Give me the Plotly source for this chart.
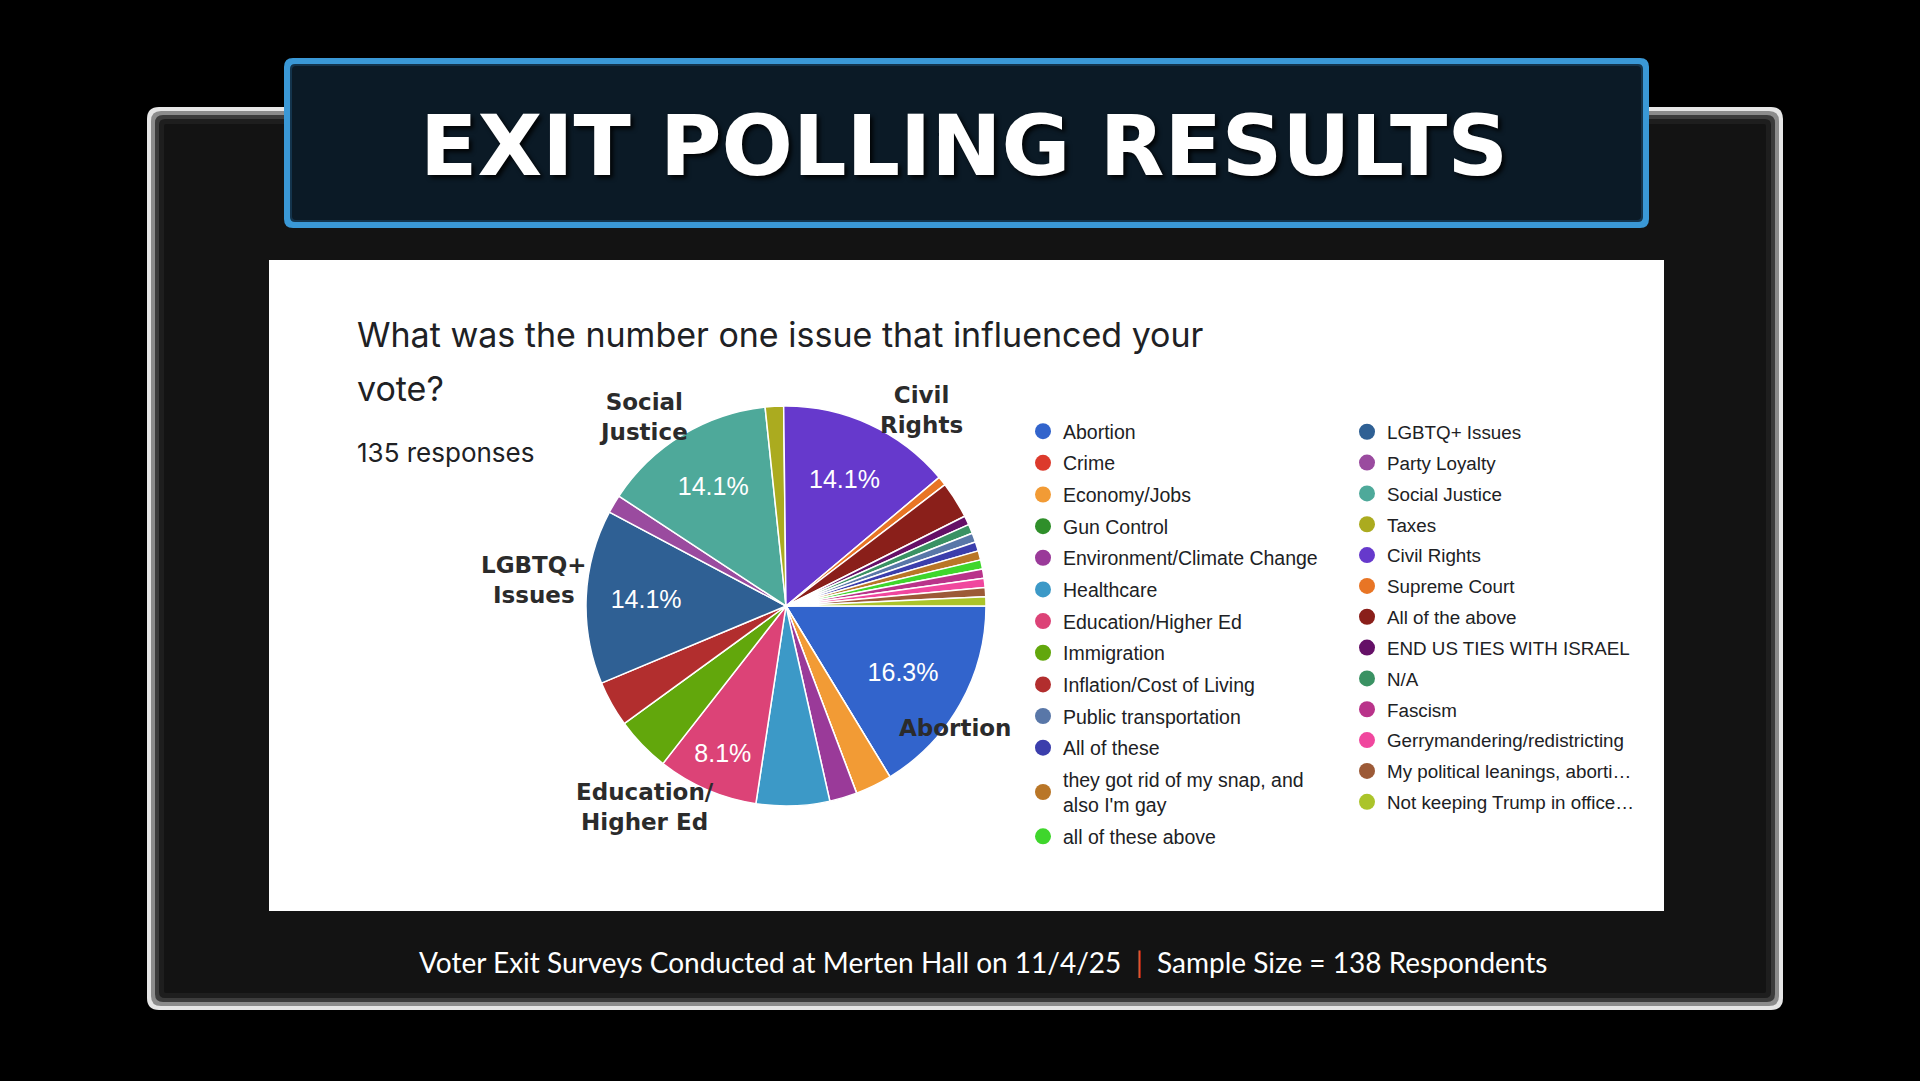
import textwrap
import plotly.graph_objects as go

W, H = 1920, 1081

# survey answers in the order the form lists them
issues = [
    "Abortion", "Crime", "Economy/Jobs", "Gun Control", "Environment/Climate Change",
    "Healthcare", "Education/Higher Ed", "Immigration", "Inflation/Cost of Living",
    "LGBTQ+ Issues", "Party Loyalty", "Social Justice", "Taxes", "Civil Rights",
    "Supreme Court", "All of the above", "END US TIES WITH ISRAEL", "N/A",
    "Public transportation", "All of these", "they got rid of my snap, and also I'm gay",
    "all of these above", "Fascism", "Gerrymandering/redistricting",
    "My political leanings, aborti…", "Not keeping Trump in office…",
]
responses = [22, 0, 4, 0, 3, 8, 11, 6, 5, 19, 2, 19, 2, 19, 1, 4, 1, 1, 1, 1, 1, 1, 1, 1, 1, 1]
colors = [
    "#3264cc", "#dc3a2c", "#f29b35", "#2f8f2a", "#9a3a99", "#3c99c7", "#dc4377",
    "#62a70c", "#b22e2e", "#2f6094", "#9a4b9f", "#4ea99a", "#abab1f", "#6639cc",
    "#e87525", "#8a1f1a", "#651067", "#3a9263", "#5977a8", "#3b3eac", "#b97627",
    "#3fd62c", "#b9338a", "#f0479e", "#9c5a37", "#abc42a",
]
legend_left = issues[0:9] + issues[18:22]
legend_right = issues[9:18] + issues[22:26]
n_responses = 135
sample_size = 138

callouts = ["Social<br>Justice", "Civil<br>Rights", "LGBTQ+<br>Issues", "Education/<br>Higher Ed", "Abortion"]
callout_xy = [(643, 417), (921, 410), (534, 580), (645, 807), (955, 728)]


def X(x):
    return x / W


def Y(y):
    return 1 - y / H


def rrect(x0, y0, x1, y1, r, fill):
    rx, ry = r / W, r / H
    a, b, c, d = X(x0), Y(y0), X(x1), Y(y1)
    path = (f"M {a+rx},{b} L {c-rx},{b} Q {c},{b} {c},{b-ry} L {c},{d+ry} Q {c},{d} {c-rx},{d} "
            f"L {a+rx},{d} Q {a},{d} {a},{d+ry} L {a},{b-ry} Q {a},{b} {a+rx},{b} Z")
    return dict(type="path", path=path, xref="paper", yref="paper", fillcolor=fill,
                line=dict(color=fill, width=0), layer="below")


fig = go.Figure()

total = sum(responses)
fig.add_trace(go.Pie(
    labels=issues, values=responses, sort=False, direction="clockwise", rotation=90,
    marker=dict(colors=colors, line=dict(color="white", width=1.5)),
    texttemplate=["%{percent:.1%}" if v / total > 0.07 else "" for v in responses],
    textposition="inside", insidetextorientation="horizontal",
    textfont=dict(family="Liberation Sans, Arial", size=25, color="white"),
    domain=dict(x=[X(586), X(986)], y=[Y(806), Y(406)]),
    showlegend=False, hoverinfo="label+percent",
))

# google-forms style two column legend
for leg, names in (("legend", legend_left), ("legend2", legend_right)):
    for name in names:
        i = issues.index(name)
        fig.add_trace(go.Scatter(
            x=[None], y=[None], mode="markers", legend=leg, legendgroup=name,
            name="<br>".join(textwrap.wrap(name, 30)),
            marker=dict(color=colors[i], size=16), hoverinfo="skip",
        ))

shapes = [
    rrect(147, 107, 1783, 1010, 12, "#e6e6e6"),
    rrect(151, 111, 1779, 1006, 10, "#8c8c8c"),
    rrect(155, 115, 1775, 1002, 8, "#3c3c3c"),
    rrect(159, 119, 1771, 998, 6, "#1e1e1e"),
    rrect(164, 124, 1766, 993, 2, "#131313"),
    dict(type="rect", xref="paper", yref="paper", x0=X(269), x1=X(1664), y0=Y(911), y1=Y(260),
         fillcolor="white", line=dict(width=0), layer="below"),
    rrect(284, 58, 1649, 228, 9, "#3a98d6"),
    rrect(290, 64, 1643, 222, 5, "#14344c"),
    rrect(292, 66, 1641, 220, 4, "#0b1a26"),
]

ann = [
    dict(x=X(964), y=Y(146), text="EXIT POLLING RESULTS",
         font=dict(family="DejaVu Sans", size=84, color="white", weight=700,
                   shadow="3px 3px 4px rgba(0,0,0,0.85)")),
    dict(x=X(355), y=Y(334), text="What was the number one issue that influenced your", xanchor="left",
         font=dict(family="Inter", size=34, color="#202124")),
    dict(x=X(355), y=Y(389), text="vote?", xanchor="left",
         font=dict(family="Inter", size=34, color="#202124")),
    dict(x=X(355), y=Y(452), text=f"{n_responses} responses", xanchor="left",
         font=dict(family="Inter", size=26, color="#202124")),
    dict(x=X(983), y=Y(962),
         text=("Voter Exit Surveys Conducted at Merten Hall on 11/4/25\u00a0\u00a0"
               "<span style='color:#e5502e'>|</span>\u00a0\u00a0"
               f"Sample Size = {sample_size} Respondents"),
         font=dict(family="Lato", size=28, color="white")),
]
for txt, (cx, cy) in zip(callouts, callout_xy):
    ann.append(dict(x=X(cx), y=Y(cy), text=txt,
                    font=dict(family="DejaVu Sans", size=23, color="#2b2b2b", weight=700)))
for a in ann:
    a.update(xref="paper", yref="paper", showarrow=False, yanchor="middle")
    a.setdefault("xanchor", "center")

legend_style = dict(xanchor="left", yanchor="top", bgcolor="rgba(0,0,0,0)",
                    itemwidth=30, traceorder="grouped")
fig.update_layout(
    width=W, height=H, margin=dict(l=0, r=0, t=0, b=0),
    paper_bgcolor="black", plot_bgcolor="rgba(0,0,0,0)",
    xaxis=dict(visible=False), yaxis=dict(visible=False),
    shapes=shapes, annotations=ann,
    legend=dict(x=X(1023), y=Y(412), tracegroupgap=3.3,
                font=dict(family="Liberation Sans, Arial", size=19.5, color="#202124"),
                **legend_style),
    legend2=dict(x=X(1347), y=Y(413), tracegroupgap=3.4,
                 font=dict(family="Liberation Sans, Arial", size=18.8, color="#202124"),
                 **legend_style),
)

fig.write_html("out.html", config={"displayModeBar": False},
               post_script="document.body.style.margin='0';"
                           "document.body.style.background='black';")
